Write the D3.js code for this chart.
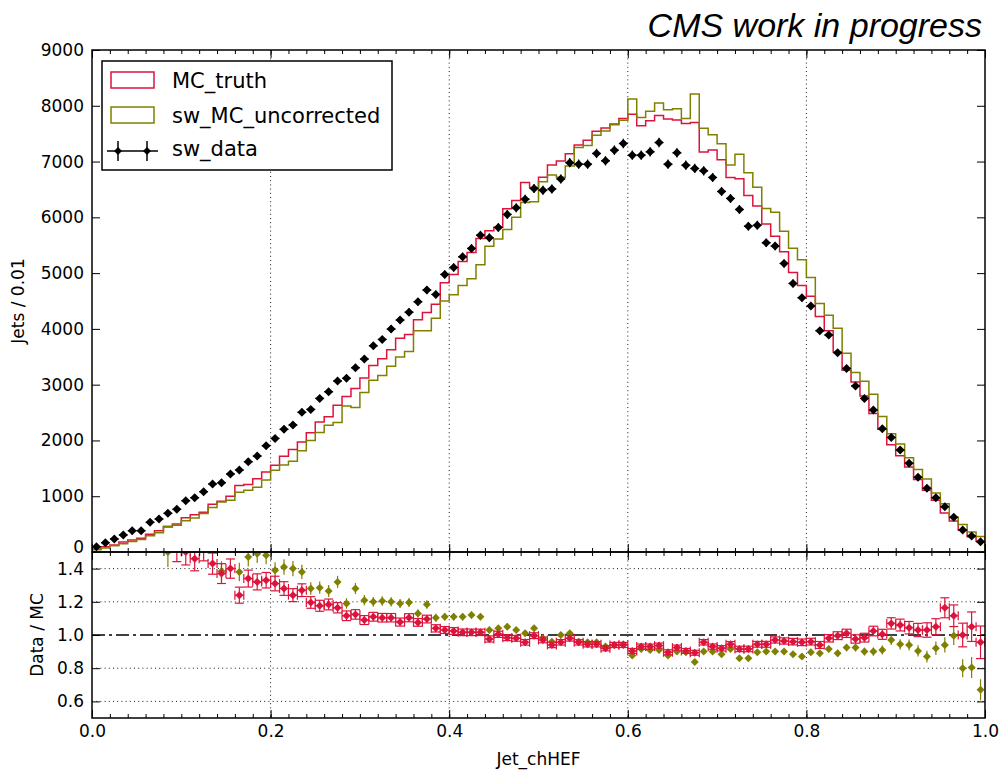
<!DOCTYPE html>
<html>
<head>
<meta charset="utf-8">
<script src="https://cdn.jsdelivr.net/npm/d3@7"></script>
<style>
  body { margin: 0; background: #fff; }
  svg { display: block; }
</style>
</head>
<body>
<svg id="chart" width="999" height="772" font-family="DejaVu Sans, sans-serif"></svg>
<script>
// Jet_chHEF distribution, 100 bins of width 0.01 on [0, 1]
const binLowEdges = d3.range(100).map(i => i / 100);

const mcTruth = [
  48, 95, 125, 180, 215, 245, 320, 380, 450, 500,
  615, 668, 714, 858, 912, 1000, 1192, 1212, 1315, 1436,
  1556, 1718, 1838, 1974, 2138, 2330, 2426, 2633, 2786, 2930,
  3120, 3345, 3465, 3625, 3830, 3900, 4165, 4295, 4443, 4825,
  4975, 5207, 5370, 5620, 5760, 5820, 6155, 6300, 6625, 6535,
  6720, 6940, 7010, 7140, 7295, 7380, 7545, 7600, 7674, 7770,
  7850, 7640, 7730, 7825, 7765, 7745, 7683, 7698, 7170, 7208,
  7032, 6716, 6692, 6390, 6205, 5882, 5660, 5385, 5012, 4778,
  4585, 4220, 3968, 3586, 3259, 3048, 2799, 2485, 2201, 1921,
  1725, 1523, 1300, 1108, 927, 698, 557, 394, 273, 194
];

const swMcUncorrected = [
  40, 72, 110, 150, 190, 225, 290, 345, 462, 480,
  560, 610, 690, 800, 897, 930, 1070, 1105, 1160, 1290,
  1465, 1560, 1626, 1814, 1998, 2143, 2271, 2322, 2616, 2590,
  2859, 3081, 3163, 3330, 3494, 3595, 3965, 3965, 4190, 4500,
  4610, 4780, 4900, 5150, 5480, 5610, 5780, 6000, 6265, 6280,
  6640, 6760, 6720, 6920, 7250, 7290, 7470, 7550, 7660, 7740,
  8120, 7790, 7900, 8050, 7930, 7945, 7770, 8210, 7595, 7480,
  7320, 6940, 7130, 6800, 6540, 6160, 6093, 5749, 5447, 5240,
  4921, 4457, 4246, 4013, 3563, 3220, 3060, 2828, 2429, 2119,
  1936, 1691, 1481, 1311, 1058, 864, 624, 493, 357, 276
];

const swData = [
  95, 167, 233, 305, 382, 382, 532, 591, 693, 765,
  920, 973, 1081, 1219, 1242, 1398, 1470, 1618, 1720, 1905,
  2037, 2199, 2276, 2504, 2557, 2754, 2873, 3065, 3113, 3303,
  3459, 3697, 3812, 3996, 4158, 4300, 4486, 4695, 4618, 4977,
  5102, 5292, 5443, 5681, 5633, 5819, 6052, 6170, 6326, 6518,
  6487, 6510, 6688, 6980, 6953, 6953, 7145, 7013, 7204, 7324,
  7115, 7115, 7174, 7341, 6953, 7156, 6935, 6876, 6833, 6715,
  6464, 6339, 6141, 5842, 5860, 5543, 5484, 5174, 4815, 4559,
  4409, 3967, 3889, 3572, 3292, 2975, 2754, 2545, 2210, 2055,
  1828, 1590, 1339, 1141, 973, 812, 622, 394, 287, 185
];

// Data / MC ratios
const ratioTruth = [
  2.0, 1.76, 1.86, 1.69, 1.78, 1.72, 1.66, 1.70, 1.63, 1.53,
  1.50, 1.46, 1.52, 1.43, 1.37, 1.40, 1.24, 1.34, 1.32, 1.33,
  1.31, 1.28, 1.24, 1.27, 1.196, 1.176, 1.184, 1.164, 1.116, 1.124,
  1.09, 1.11, 1.104, 1.104, 1.078, 1.104, 1.076, 1.096, 1.04, 1.03,
  1.024, 1.016, 1.016, 1.016, 0.976, 1.004, 0.984, 0.98, 0.956, 0.996,
  0.97, 0.94, 0.956, 0.98, 0.956, 0.944, 0.944, 0.92, 0.94, 0.94,
  0.904, 0.93, 0.93, 0.936, 0.896, 0.924, 0.904, 0.893, 0.956, 0.93,
  0.92, 0.944, 0.916, 0.916, 0.944, 0.944, 0.97, 0.964, 0.96, 0.956,
  0.96, 0.94, 0.98, 0.996, 1.01, 0.976, 0.984, 1.024, 1.004, 1.07,
  1.06, 1.044, 1.03, 1.03, 1.05, 1.164, 1.116, 1.0, 1.05, 0.956
];

const ratioUncorrected = [
  2.3, 2.3, 2.1, 2.0, 2.0, 1.75, 1.83, 1.71, 1.50, 1.62,
  1.66, 1.62, 1.60, 1.57, 1.384, 1.56, 1.38, 1.47, 1.49, 1.48,
  1.39, 1.41, 1.40, 1.38, 1.28, 1.285, 1.265, 1.32, 1.19, 1.28,
  1.21, 1.20, 1.205, 1.20, 1.19, 1.196, 1.13, 1.184, 1.104, 1.11,
  1.11, 1.11, 1.12, 1.11, 1.03, 1.04, 1.05, 1.03, 1.01, 1.04,
  0.98, 0.96, 1.0, 1.01, 0.96, 0.956, 0.956, 0.93, 0.94, 0.944,
  0.876, 0.916, 0.91, 0.91, 0.876, 0.90, 0.896, 0.838, 0.90, 0.90,
  0.884, 0.916, 0.86, 0.86, 0.896, 0.90, 0.90, 0.90, 0.884, 0.87,
  0.896, 0.89, 0.916, 0.89, 0.924, 0.924, 0.90, 0.90, 0.91, 0.97,
  0.944, 0.94, 0.904, 0.87, 0.92, 0.94, 0.996, 0.80, 0.804, 0.67
];

const xTicks = [0, 0.2, 0.4, 0.6, 0.8, 1.0];
const xMinorTicks = d3.range(0, 51).map(i => i / 50);
const yTicksMain = [0, 1000, 2000, 3000, 4000, 5000, 6000, 7000, 8000, 9000];
const yTicksRatio = [0.6, 0.8, 1.0, 1.2, 1.4];
const xGrid = [0.2, 0.4, 0.6, 0.8];
const ratioGrid = [0.6, 0.8, 1.2, 1.4];

const seriesNames = ["MC_truth", "sw_MC_uncorrected", "sw_data"];
const colTruth = "#dc143c";
const colUncorr = "#808000";

// ---- layout ----
const L = 92, R = 985, T = 50, MID = 552, B = 718;
const binW = 0.01;

const svg = d3.select("#chart");
const x = d3.scaleLinear().domain([0, 1]).range([L, R]);
const y = d3.scaleLinear().domain([0, 9000]).range([MID, T]);
const yr = d3.scaleLinear().domain([0.5, 1.5]).range([B, MID]);

const defs = svg.append("defs");
defs.append("clipPath").attr("id", "clipMain")
  .append("rect").attr("x", L).attr("y", T).attr("width", R - L).attr("height", MID - T);
defs.append("clipPath").attr("id", "clipRatio")
  .append("rect").attr("x", L).attr("y", MID).attr("width", R - L).attr("height", B - MID);

// ---- grid ----
const grid = svg.append("g").attr("stroke", "#000").attr("stroke-width", 0.9)
  .attr("stroke-dasharray", "1,3.2").attr("fill", "none");
xGrid.forEach(v => {
  grid.append("line").attr("x1", x(v)).attr("x2", x(v)).attr("y1", T).attr("y2", MID);
  grid.append("line").attr("x1", x(v)).attr("x2", x(v)).attr("y1", MID).attr("y2", B);
});
ratioGrid.forEach(v => {
  grid.append("line").attr("x1", L).attr("x2", R).attr("y1", yr(v)).attr("y2", yr(v));
});

// ---- histograms ----
function stepPoints(vals) {
  const pts = [[0, 0]];
  vals.forEach((v, i) => pts.push([binLowEdges[i], v]));
  pts.push([1, vals[vals.length - 1]]);
  pts.push([1, 0]);
  return pts;
}
const stepLine = d3.line().x(d => x(d[0])).y(d => y(d[1])).curve(d3.curveStepAfter);

const main = svg.append("g").attr("clip-path", "url(#clipMain)");
main.append("path").attr("d", stepLine(stepPoints(mcTruth)))
  .attr("fill", "none").attr("stroke", colTruth).attr("stroke-width", 1.5);
main.append("path").attr("d", stepLine(stepPoints(swMcUncorrected)))
  .attr("fill", "none").attr("stroke", colUncorr).attr("stroke-width", 1.5);

function diamond(cx, cy, r) {
  return `M${cx},${cy - r}L${cx + r},${cy}L${cx},${cy + r}L${cx - r},${cy}Z`;
}

// data points with error bars
const halfBinPx = x(binW / 2) - x(0);
const dataG = main.append("g");
swData.forEach((v, i) => {
  const cx = x(binLowEdges[i] + binW / 2), cy = y(v);
  const e = Math.sqrt(v);
  dataG.append("line").attr("x1", cx).attr("x2", cx).attr("y1", y(v + e)).attr("y2", y(v - e))
    .attr("stroke", "#000").attr("stroke-width", 1.2);
  dataG.append("line").attr("x1", cx - halfBinPx).attr("x2", cx + halfBinPx).attr("y1", cy).attr("y2", cy)
    .attr("stroke", "#000").attr("stroke-width", 1.2);
  dataG.append("path").attr("d", diamond(cx, cy, 4.5)).attr("fill", "#000");
});

// ---- ratio panel ----
const ratioG = svg.append("g").attr("clip-path", "url(#clipRatio)");
ratioG.append("line").attr("x1", L).attr("x2", R).attr("y1", yr(1)).attr("y2", yr(1))
  .attr("stroke", "#000").attr("stroke-width", 1.6).attr("stroke-dasharray", "13,4,3,4");

ratioUncorrected.forEach((r, i) => {
  const cx = x(binLowEdges[i] + binW / 2);
  const e = r * Math.sqrt(1 / swData[i] + 1 / swMcUncorrected[i]);
  ratioG.append("line").attr("x1", cx).attr("x2", cx).attr("y1", yr(r + e)).attr("y2", yr(r - e))
    .attr("stroke", colUncorr).attr("stroke-width", 1.2);
  ratioG.append("path").attr("d", diamond(cx, yr(r), 4)).attr("fill", colUncorr);
});

ratioTruth.forEach((r, i) => {
  const cx = x(binLowEdges[i] + binW / 2), cy = yr(r);
  const e = r * Math.sqrt(1 / swData[i] + 1 / mcTruth[i]);
  const y1 = yr(r + e), y2 = yr(r - e), cap = 4.5;
  const g = ratioG.append("g").attr("stroke", colTruth).attr("stroke-width", 1.2).attr("fill", "none");
  g.append("line").attr("x1", cx).attr("x2", cx).attr("y1", y1).attr("y2", y2);
  g.append("line").attr("x1", cx - cap).attr("x2", cx + cap).attr("y1", y1).attr("y2", y1);
  g.append("line").attr("x1", cx - cap).attr("x2", cx + cap).attr("y1", y2).attr("y2", y2);
  g.append("line").attr("x1", cx - halfBinPx).attr("x2", cx + halfBinPx).attr("y1", cy).attr("y2", cy);
  g.append("line").attr("x1", cx - halfBinPx).attr("x2", cx - halfBinPx).attr("y1", cy - cap).attr("y2", cy + cap);
  g.append("line").attr("x1", cx + halfBinPx).attr("x2", cx + halfBinPx).attr("y1", cy - cap).attr("y2", cy + cap);
  ratioG.append("path").attr("d", diamond(cx, cy, 4)).attr("fill", colTruth);
});

// ---- axes ----
function styleAxis(g, fontSize) {
  g.select(".domain").remove();
  g.selectAll(".tick line").attr("stroke", "#000").attr("stroke-width", 1);
  g.selectAll(".tick text").attr("fill", "#000").attr("font-size", fontSize)
    .attr("font-family", "DejaVu Sans, sans-serif");
}
const noLabel = () => "";

// x ticks on every horizontal edge (inward)
[[T, "top"], [MID, "bottomMain"], [MID, "topRatio"], [B, "bottom"]].forEach(([yy, kind]) => {
  const inward = (kind === "top" || kind === "topRatio");
  const mk = inward ? d3.axisTop : d3.axisBottom;
  const major = mk(x).tickValues(xTicks).tickSize(-8)
    .tickFormat(kind === "bottom" ? d3.format(".1f") : noLabel).tickPadding(7);
  const minor = mk(x).tickValues(xMinorTicks).tickSize(-4).tickFormat(noLabel);
  svg.append("g").attr("transform", `translate(0,${yy})`).call(minor).call(g => styleAxis(g, 17));
  svg.append("g").attr("transform", `translate(0,${yy})`).call(major).call(g => styleAxis(g, 17));
});

svg.append("g").attr("transform", `translate(${L},0)`)
  .call(d3.axisLeft(y).tickValues(yTicksMain).tickSize(-8).tickPadding(8).tickFormat(d3.format("d")))
  .call(g => styleAxis(g, 17))
  .call(g => g.selectAll(".tick text").filter(d => d === 0).attr("dy", "0.05em"));
svg.append("g").attr("transform", `translate(${R},0)`)
  .call(d3.axisRight(y).tickValues(yTicksMain).tickSize(-8).tickFormat(noLabel))
  .call(g => styleAxis(g, 17));
svg.append("g").attr("transform", `translate(${L},0)`)
  .call(d3.axisLeft(yr).tickValues(yTicksRatio).tickSize(-8).tickPadding(8).tickFormat(d3.format(".1f")))
  .call(g => styleAxis(g, 17));
svg.append("g").attr("transform", `translate(${R},0)`)
  .call(d3.axisRight(yr).tickValues(yTicksRatio).tickSize(-8).tickFormat(noLabel))
  .call(g => styleAxis(g, 17));

// frames
svg.append("rect").attr("x", L).attr("y", T).attr("width", R - L).attr("height", MID - T)
  .attr("fill", "none").attr("stroke", "#000").attr("stroke-width", 1.5);
svg.append("rect").attr("x", L).attr("y", MID).attr("width", R - L).attr("height", B - MID)
  .attr("fill", "none").attr("stroke", "#000").attr("stroke-width", 1.5);

// ---- labels ----
svg.append("text").attr("x", (L + R) / 2).attr("y", 765).attr("text-anchor", "middle")
  .attr("font-size", 17).text("Jet_chHEF");
svg.append("text").attr("transform", `translate(24,${(T + MID) / 2}) rotate(-90)`)
  .attr("text-anchor", "middle").attr("font-size", 17).text("Jets / 0.01");
svg.append("text").attr("transform", `translate(43,${(MID + B) / 2}) rotate(-90)`)
  .attr("text-anchor", "middle").attr("font-size", 17).text("Data / MC");
svg.append("text").attr("x", 982).attr("y", 37).attr("text-anchor", "end")
  .style("font-family", "'Liberation Sans', Arial, sans-serif").style("font-style", "italic")
  .attr("font-size", 34).text("CMS work in progress");

// ---- legend ----
const lg = svg.append("g");
lg.append("rect").attr("x", 102).attr("y", 61).attr("width", 290).attr("height", 109)
  .attr("fill", "#fff").attr("stroke", "#000").attr("stroke-width", 1.5);
lg.append("rect").attr("x", 111).attr("y", 72).attr("width", 43).attr("height", 16)
  .attr("fill", "none").attr("stroke", colTruth).attr("stroke-width", 1.5);
lg.append("rect").attr("x", 111).attr("y", 107).attr("width", 43).attr("height", 16)
  .attr("fill", "none").attr("stroke", colUncorr).attr("stroke-width", 1.5);
lg.append("line").attr("x1", 107).attr("x2", 158).attr("y1", 151).attr("y2", 151)
  .attr("stroke", "#000").attr("stroke-width", 1.5);
[118, 147].forEach(cx => {
  lg.append("line").attr("x1", cx).attr("x2", cx).attr("y1", 141).attr("y2", 161)
    .attr("stroke", "#000").attr("stroke-width", 1.5);
  lg.append("path").attr("d", diamond(cx, 151, 4)).attr("fill", "#000");
});
[87.5, 122.5, 156].forEach((by, i) => {
  lg.append("text").attr("x", 172).attr("y", by).attr("font-size", 21).text(seriesNames[i]);
});
</script>
</body>
</html>
